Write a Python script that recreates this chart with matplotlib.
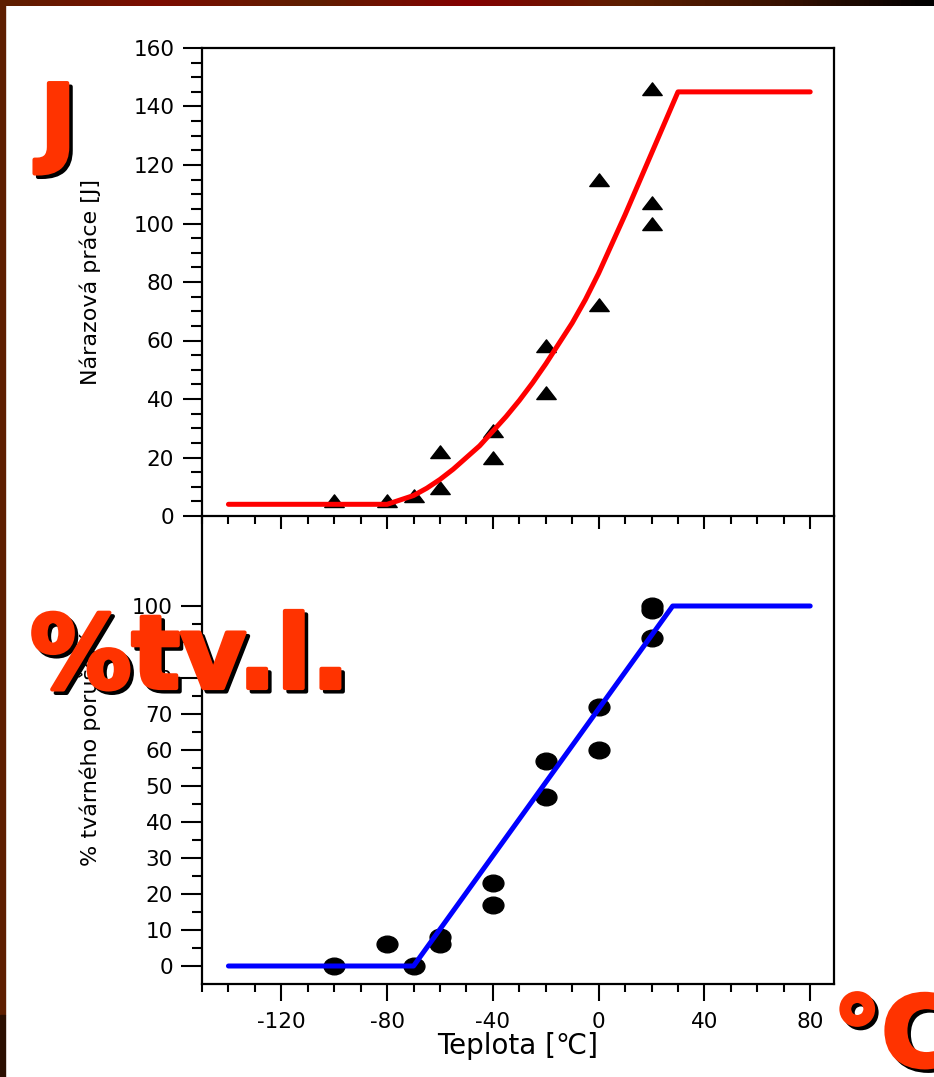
import numpy as np
import matplotlib.pyplot as plt
from matplotlib.path import Path
from matplotlib.ticker import MultipleLocator
from matplotlib.colors import LinearSegmentedColormap
import matplotlib.patheffects as pe

plt.rcParams['font.family'] = ['DejaVu Sans']
plt.rcParams['axes.unicode_minus'] = False

# impact energy (top)
temp_j = [-100, -80, -70, -60, -60, -40, -40, -20, -20, 0, 0, 20, 20, 20]
energy_j = [5, 5, 7, 22, 9.5, 29, 20, 58, 42, 115, 72, 146, 107, 100]
fit_temp_j = [-140, -80, -75, -70, -65, -60, -55, -50, -45, -40, -35, -30, -25,
              -20, -15, -10, -5, 0, 5, 10, 15, 20, 25, 30, 80]
fit_energy_j = [4, 4, 5.5, 7, 9.5, 12.5, 16, 20, 24, 29, 34, 39.5, 45.5,
                52, 59, 66, 74, 83, 93, 103, 113.5, 124, 134.5, 145, 145]

# ductile fracture percentage (bottom)
temp_pct = [-100, -80, -70, -60, -60, -40, -40, -20, -20, 0, 0, 20, 20, 20]
ductile_pct = [0, 6, 0, 8, 6, 23, 17, 57, 47, 72, 60, 100, 99, 91]
fit_temp_pct = [-140, -70, 28, 80]
fit_pct = [0, 0, 100, 100]

W, H = 934, 1077
fig = plt.figure(figsize=(W / 100, H / 100), dpi=100)

# frame decoration
strip = fig.add_axes([0, 1 - 6 / H, 1, 6 / H])
cmap = LinearSegmentedColormap.from_list(
    'strip', ['#5e1f00', '#7c0c00', '#5e1f00', '#850000', '#5e1f00', '#3a1200', '#000000'])
strip.imshow(np.linspace(0, 1, 200)[None, :], aspect='auto', cmap=cmap)
strip.axis('off')
fig.patches.append(plt.Rectangle((0, 1 - 1015 / H), 5 / W, 1015 / H,
                                 transform=fig.transFigure, color='#5e1f00'))
fig.patches.append(plt.Rectangle((0, 0), 5 / W, 1 - 1015 / H,
                                 transform=fig.transFigure, color='#2b0e00'))

ax1 = fig.add_axes([202 / W, 1 - 516 / H, 632 / W, 468 / H])
ax2 = fig.add_axes([202 / W, 1 - 984 / H, 632 / W, 468 / H])
ax2.set_facecolor('none')

tri = Path([(-1, -0.62), (1, -0.62), (0, 0.68), (-1, -0.62)],
           [Path.MOVETO, Path.LINETO, Path.LINETO, Path.CLOSEPOLY])
circ = Path.unit_circle()
oval = Path(circ.vertices * [1, 0.8], circ.codes)

ax1.plot(temp_j, energy_j, linestyle='none', marker=tri, markersize=14,
         color='black', zorder=2)
ax1.plot(fit_temp_j, fit_energy_j, color='#ff0000', lw=3.6, zorder=3,
         solid_capstyle='round', solid_joinstyle='round')

ax2.plot(temp_pct, ductile_pct, linestyle='none', marker=oval, markersize=15,
         color='black', zorder=2)
ax2.plot(fit_temp_pct, fit_pct, color='#0000ff', lw=3.6, zorder=3,
         solid_capstyle='round', solid_joinstyle='round')

for ax in (ax1, ax2):
    ax.set_xlim(-150, 89)
    ax.xaxis.set_major_locator(MultipleLocator(40))
    ax.xaxis.set_minor_locator(MultipleLocator(10))
    for s in ax.spines.values():
        s.set_linewidth(1.6)
    ax.tick_params(which='both', width=1.5, labelsize=15.5, direction='out')

ax1.set_ylim(0, 160)
ax1.yaxis.set_major_locator(MultipleLocator(20))
ax1.yaxis.set_minor_locator(MultipleLocator(5))
ax1.tick_params(axis='y', which='major', length=14, pad=6)
ax1.tick_params(axis='y', which='minor', length=8)
ax1.tick_params(axis='x', which='major', length=9, labelbottom=False)
ax1.tick_params(axis='x', which='minor', length=6)
ax1.set_ylabel('Nárazová práce [J]', fontsize=16)
ax1.yaxis.set_label_coords(-0.16, 0.5)

ax2.set_ylim(-5, 125)
ax2.set_yticks(np.arange(0, 101, 10))
ax2.set_yticks(np.arange(5, 100, 10), minor=True)
ax2.spines['top'].set_visible(False)
ax2.tick_params(axis='y', which='major', length=15, pad=6)
ax2.tick_params(axis='y', which='minor', length=7)
ax2.tick_params(axis='x', which='major', length=12, pad=8)
ax2.tick_params(axis='x', which='minor', length=6)
ax2.set_ylabel('% tvárného porušení', fontsize=16)
ax2.yaxis.set_label_coords(-0.16, 0.5)
ax2.set_xlabel('Teplota [℃]', fontsize=20, labelpad=0)

red = '#ff3300'
shadow = [pe.Stroke(offset=(2.5, -2.5), linewidth=3, foreground='black'),
          pe.SimplePatchShadow(offset=(2.5, -2.5), shadow_rgbFace='black', alpha=1.0),
          pe.Stroke(linewidth=3, foreground=red),
          pe.Normal()]
big = dict(fontweight='bold', color=red, ha='left',
           va='baseline', path_effects=shadow)
fig.text(40 / W, 1 - 154 / H, 'J', fontsize=70, **big)
fig.text(30 / W, 1 - 688 / H, '%tv.l.', fontsize=73, **big)
fig.text(833 / W, 1 - 1066 / H, '°C', fontsize=70, **big)

fig.savefig('out.png', dpi=100)
